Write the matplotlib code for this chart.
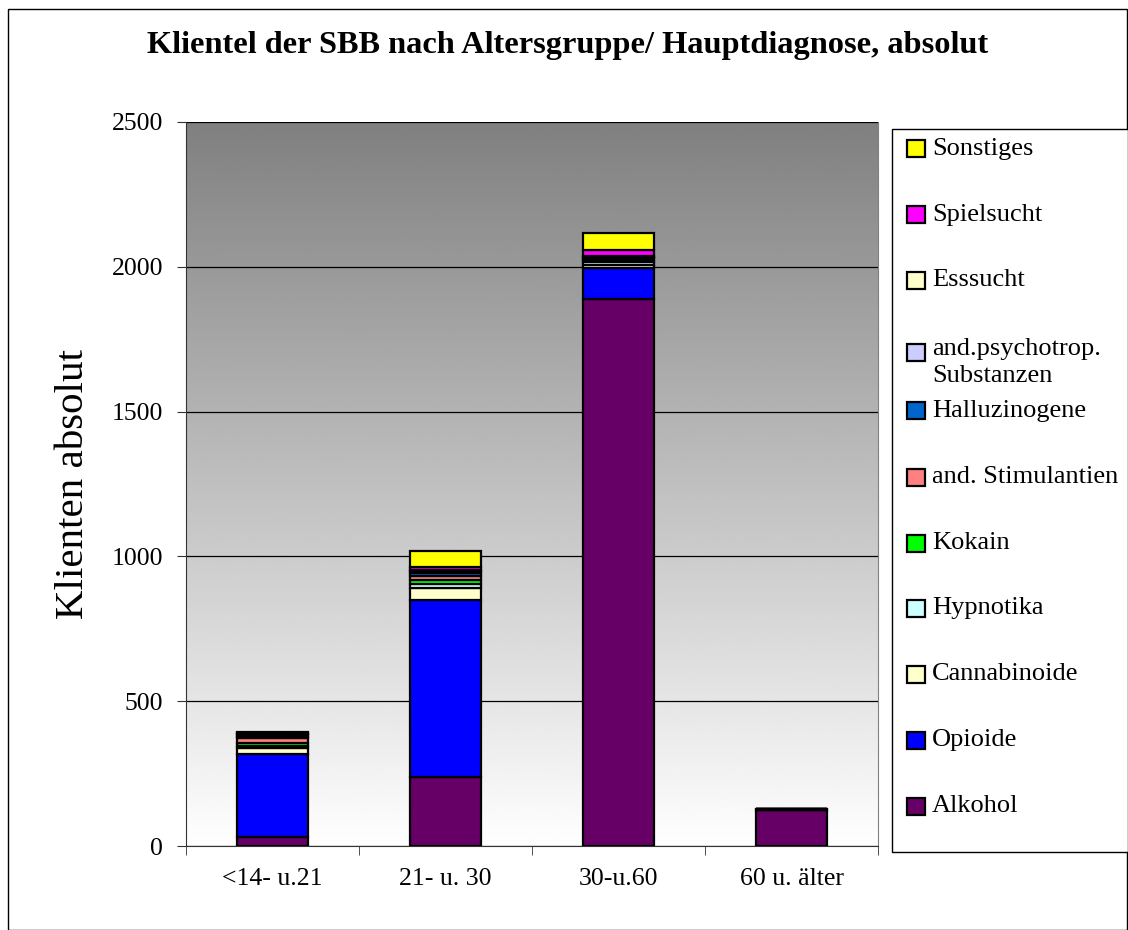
import numpy as np
import matplotlib.pyplot as plt
from matplotlib.patches import Rectangle

plt.rcParams['font.family'] = ['Liberation Serif', 'DejaVu Serif']

groups = ['<14- u.21', '21- u. 30', '30-u.60', '60 u. älter']

series_names = ['Alkohol', 'Opioide', 'Cannabinoide', 'Hypnotika', 'Kokain',
                'and. Stimulantien', 'Halluzinogene', 'and.psychotrop.\nSubstanzen',
                'Esssucht', 'Spielsucht', 'Sonstiges']
series_colors = ['#660066', '#0000FF', '#FFFFCC', '#CCFFFF', '#00FF00',
                 '#FF8080', '#0066CC', '#CCCCFF', '#FFFFCC', '#FF00FF', '#FFFF00']

alkohol = [32, 238, 1890, 125]
opioide = [285, 611, 105, 0]
cannabinoide = [22, 42, 12, 0]
hypnotika = [5, 12, 10, 2]
kokain = [10, 14, 5, 0]
stimulantien = [18, 17, 8, 0]
halluzinogene = [5, 9, 3, 0]
psychotrop = [5, 5, 3, 0]
esssucht = [5, 5, 3, 0]
spielsucht = [3, 10, 20, 0]
sonstiges = [3, 55, 58, 1]

values = [alkohol, opioide, cannabinoide, hypnotika, kokain, stimulantien,
          halluzinogene, psychotrop, esssucht, spielsucht, sonstiges]

W, H = 1128, 930
fig = plt.figure(figsize=(W / 100, H / 100), dpi=100)
ax = fig.add_axes([186 / W, 1 - 846 / H, 692 / W, 724 / H])

# gradient background: gray at top, white at bottom
grad = np.linspace(1.0, 0.5, 256).reshape(-1, 1)
ax.imshow(grad, extent=[0, 1, 0, 1], transform=ax.transAxes, cmap='gray',
          vmin=0, vmax=1, aspect='auto', zorder=0, origin='lower')

x = np.arange(len(groups))
bottom = np.zeros(len(groups))
for name, vals, col in zip(series_names, values, series_colors):
    ax.bar(x, vals, 0.405, bottom=bottom, color=col, edgecolor='black',
           linewidth=1.6, zorder=3)
    bottom += np.array(vals)

ax.set_xlim(-0.5, 3.5)
ax.set_ylim(0, 2500)
ax.set_yticks(range(0, 2501, 500))
ax.yaxis.grid(True, color='black', linewidth=0.9, zorder=1)
ax.set_axisbelow(True)
ax.set_xticks(x)
ax.set_xticklabels(groups, fontsize=18.5)
ax.tick_params(axis='x', length=0, pad=16)
ax.set_xticks(np.arange(-0.5, 4, 1), minor=True)
ax.tick_params(axis='x', which='minor', length=6.5, color='#333333')
ax.tick_params(axis='y', labelsize=18.5, length=6.5, pad=10, color='#333333')
ax.spines['top'].set_visible(False)
ax.spines['right'].set_color('gray')
ax.spines['left'].set_color('#333333')
ax.spines['bottom'].set_color('#333333')
ax.set_ylabel('Klienten absolut', fontsize=29.5, labelpad=14)

fig.text(0.503, 1 - 45 / H, 'Klientel der SBB nach Altersgruppe/ Hauptdiagnose, absolut',
         ha='center', va='center', fontsize=23.3, fontweight='bold')

# legend box, drawn in pixel positions of the figure
fig.patches.append(Rectangle((892 / W, 1 - 852 / H), (W - 892) / W, 723 / H,
                             transform=fig.transFigure, facecolor='white',
                             edgecolor='black', linewidth=1.0, zorder=5))
legend_y = [148.5, 214.5, 280.5, 352.5, 411, 477, 543, 608, 674, 740, 806]
for yc, name, col in zip(legend_y, series_names[::-1], series_colors[::-1]):
    fig.patches.append(Rectangle((907 / W, 1 - (yc + 8.5) / H), 18 / W, 17 / H,
                                 transform=fig.transFigure, facecolor=col,
                                 edgecolor='black', linewidth=1.6, zorder=6))
    lines = name.split('\n')
    if len(lines) > 1:
        fig.text(932 / W, 1 - (yc - 3) / H, lines[0], ha='left', va='center',
                 fontsize=19, zorder=7)
        fig.text(932 / W, 1 - (yc + 23) / H, lines[1], ha='left', va='center',
                 fontsize=19, zorder=7)
    else:
        fig.text(932 / W, 1 - yc / H, name, ha='left', va='center',
                 fontsize=19, zorder=7)

fig.patches.append(Rectangle((8 / W, 0), 1 - 8 / W - 0.001, 1 - 8 / H - 0.001,
                             transform=fig.transFigure, fill=False,
                             edgecolor='black', linewidth=1.0))

fig.savefig('out.png', dpi=100)
